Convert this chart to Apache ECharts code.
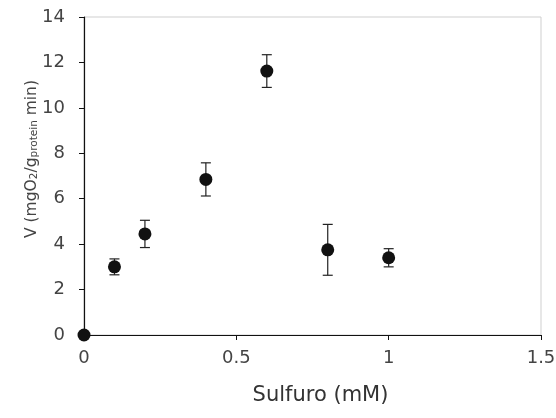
<!DOCTYPE html>
<html>
<head>
<meta charset="utf-8">
<script src="https://cdn.jsdelivr.net/npm/echarts@6/dist/echarts.min.js"></script>
<style>
  html, body {margin: 0; padding: 0; background: #fff;}
  #chart {width: 556px; height: 418px;}
</style>
</head>
<body>
<div id="chart"></div>
<script>
// sulfide concentration (mM) and rate V with error (+/-)
const sulfuro = [0, 0.1, 0.2, 0.4, 0.6, 0.8, 1.0];
const rate = [0, 3.0, 4.45, 6.85, 11.62, 3.75, 3.4];
const rateErr = [0, 0.35, 0.6, 0.73, 0.72, 1.12, 0.4];
const xTicks = [0, 0.5, 1, 1.5];
const yTicks = [0, 2, 4, 6, 8, 10, 12, 14];

const points = sulfuro.map((x, i) => [x, rate[i]]);
const bars = sulfuro.map((x, i) => [x, rate[i] - rateErr[i], rate[i] + rateErr[i]]);

const font = 'DejaVu Sans, sans-serif';
const chart = echarts.init(document.getElementById('chart'));

chart.setOption({
  animation: false,
  grid: {
    left: 84, right: 15, top: 17, bottom: 83,
    outerBoundsMode: 'none',
    show: true, borderColor: '#cfcfcf', borderWidth: 1
  },
  xAxis: {
    type: 'value',
    min: xTicks[0],
    max: xTicks[xTicks.length - 1],
    interval: 0.5,
    name: 'Sulfuro (mM)',
    nameLocation: 'middle',
    nameGap: 50,
    nameTextStyle: {fontFamily: font, fontSize: 21, color: '#333', padding: [0, 0, 0, 16]},
    axisLine: {lineStyle: {color: '#111', width: 1.2}},
    axisTick: {show: true, length: 5, inside: false, lineStyle: {color: '#111'}},
    axisLabel: {fontFamily: font, fontSize: 18, color: '#444', margin: 14},
    splitLine: {show: false}
  },
  yAxis: {
    type: 'value',
    min: yTicks[0],
    max: yTicks[yTicks.length - 1],
    interval: 2,
    name: 'V (mgO{sub|2}/g{sub|protein} min)',
    nameLocation: 'middle',
    nameGap: 44,
    nameMoveOverlap: false,
    nameTextStyle: {
      fontFamily: font, fontSize: 15.5, color: '#444', padding: [0, 0, 0, 34],
      rich: {sub: {fontFamily: font, fontSize: 10.5, color: '#444', verticalAlign: 'bottom', padding: [6, 0, 0, 0]}}
    },
    axisLine: {lineStyle: {color: '#111', width: 1.2}},
    axisTick: {show: true, length: 5, inside: false, lineStyle: {color: '#111'}},
    axisLabel: {fontFamily: font, fontSize: 18, color: '#444', margin: 19},
    splitLine: {show: false}
  },
  series: [
    {
      type: 'custom',
      name: 'error',
      data: bars,
      renderItem(params, api) {
        const x = api.value(0);
        const lo = api.coord([x, api.value(1)]);
        const hi = api.coord([x, api.value(2)]);
        const w = 5;
        const style = {stroke: '#222', lineWidth: 1.2};
        return {
          type: 'group',
          children: [
            {type: 'line', shape: {x1: hi[0], y1: hi[1], x2: lo[0], y2: lo[1]}, style},
            {type: 'line', shape: {x1: hi[0] - w, y1: hi[1], x2: hi[0] + w, y2: hi[1]}, style},
            {type: 'line', shape: {x1: lo[0] - w, y1: lo[1], x2: lo[0] + w, y2: lo[1]}, style}
          ]
        };
      },
      z: 2
    },
    {
      type: 'scatter',
      data: points,
      symbol: 'circle',
      symbolSize: 13,
      itemStyle: {color: '#111', opacity: 1},
      z: 3
    }
  ]
});
</script>
</body>
</html>
